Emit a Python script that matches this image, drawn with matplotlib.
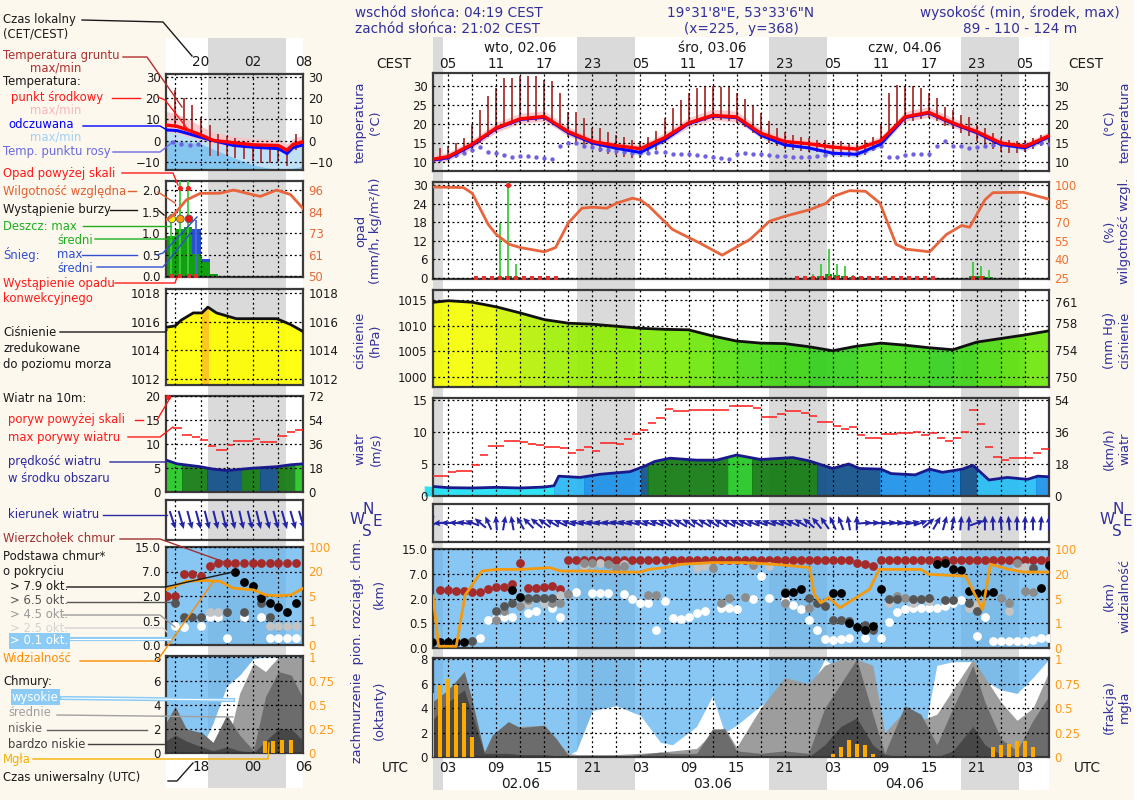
import numpy as np
import matplotlib
matplotlib.use("Agg")
import matplotlib.pyplot as plt
from matplotlib.colors import LinearSegmentedColormap, Normalize
from matplotlib.lines import Line2D
from matplotlib.patches import Rectangle
from matplotlib.transforms import blended_transform_factory

W, H = 1147, 800
CREAM = "#fdf8ee"
INK = "#1a1a1a"
LBL = "#30309a"
SKY = "#56aff0"

# ---------------- main meteogram, hours counted from 02.06 00 UTC ----------------
XLIM = (1.1, 78.0)
SUNRISE, SUNSET = 2 + 19 / 60, 19 + 2 / 60      # 04:19 / 21:02 CEST given in UTC

hours3 = np.arange(0, 79, 3)
temp_mid = [10.2, 11.3, 14.6, 18.9, 21.3, 21.9, 17.9, 15.3, 14.2, 13.4, 16.3, 20.2, 22.2, 21.8,
            17.5, 15.3, 14.7, 13.8, 13.3, 15.5, 21.8, 23.0, 20.2, 17.9, 14.9, 14.0, 16.8]
temp_max = [11.3, 12.4, 15.9, 20.3, 22.8, 23.4, 19.2, 16.4, 15.2, 14.4, 17.6, 21.6, 23.8, 23.3,
            18.8, 16.4, 15.7, 14.8, 14.3, 16.7, 23.2, 24.5, 21.5, 19.0, 15.9, 15.0, 17.9]
temp_min = [9.3, 10.3, 13.5, 17.7, 20.1, 20.6, 16.8, 14.3, 13.2, 12.4, 15.2, 19.0, 20.9, 20.5,
            16.4, 14.3, 13.8, 12.8, 12.3, 14.5, 20.6, 21.7, 19.1, 16.9, 14.0, 13.1, 15.8]
feel_mid = [10.0, 11.0, 14.3, 18.7, 21.1, 21.7, 17.6, 14.9, 13.5, 12.4, 15.7, 20.0, 22.0, 21.6,
            17.0, 14.4, 13.6, 12.2, 11.9, 14.6, 21.6, 22.8, 20.0, 17.6, 14.5, 13.6, 16.5]
feel_max = [10.8, 11.8, 15.1, 19.5, 21.9, 22.5, 18.4, 15.7, 14.3, 13.2, 16.5, 20.8, 22.8, 22.4,
            17.8, 15.2, 14.4, 13.0, 12.7, 15.4, 22.4, 23.6, 20.8, 18.4, 15.3, 14.4, 17.3]
feel_min = [9.2, 10.2, 13.5, 17.9, 20.3, 20.9, 16.8, 14.1, 12.7, 11.6, 14.9, 19.2, 21.2, 20.8,
            16.2, 13.6, 12.8, 11.4, 11.1, 13.8, 20.8, 22.0, 19.2, 16.8, 13.7, 12.8, 15.7]
hum_hours = [0, 4.9, 6, 8, 9, 10.6, 12, 15, 16.4, 18, 19.7, 21, 22.8, 24, 26, 27, 28.1, 31,
             34.3, 37.2, 40.7, 43.1, 45, 48.1, 50.2, 51, 53.1, 55.1, 56.9, 58.9, 60.2, 63.1,
             65.2, 67.1, 68.1, 70, 71, 74.8, 78]
humidity = [98.6, 98.0, 93.4, 68.2, 60.2, 52.3, 49.6, 46.2, 49.6, 69.5, 81.4, 82.2, 81.4, 85.4,
            89.4, 88.0, 82.7, 64.2, 53.6, 43.5, 56.3, 70.8, 74.8, 80.1, 85.4, 90.7, 95.5, 95.0,
            85.4, 52.3, 48.3, 46.2, 60.2, 67.4, 66.0, 88.1, 93.9, 94.2, 88.6]
pressure = [1014.4, 1014.9, 1014.6, 1013.7, 1012.5, 1011.2, 1010.5, 1010.3, 1009.9, 1009.5,
            1009.3, 1009.2, 1008.0, 1007.0, 1006.6, 1006.5, 1005.9, 1005.1, 1006.0, 1006.6,
            1006.2, 1005.7, 1005.3, 1006.8, 1007.5, 1008.2, 1009.0]

# hourly series, h = 1 .. 78
hours1 = np.arange(1, 79)
ground_max = [12.5, 13.5, 14.0, 14.8, 16.2, 19.7, 23.7, 27.2, 29.5, 32.1, 32.1, 32.5,
              32.5, 32.5, 31.6, 31.2, 28.1, 23.2, 23.2, 21.5, 18.8, 18.8, 17.9, 17.1,
              16.5, 15.7, 15.5, 16.6, 18.0, 21.5, 24.1, 26.3, 28.1, 29.4, 30.0, 30.0,
              29.8, 29.8, 28.1, 26.5, 24.7, 22.8, 20.6, 18.8, 17.9, 17.1, 16.6, 16.2,
              15.7, 15.8, 15.5, 15.3, 15.0, 15.0, 15.7, 16.6, 19.7, 28.1, 30.3, 29.9,
              29.9, 29.4, 28.1, 26.7, 24.5, 23.7, 22.3, 21.9, 19.7, 18.8, 17.5, 16.2,
              15.7, 15.3, 15.7, 16.2, 17.1, 17.5]
ground_min = [9.3, 9.8, 10.3, 11.0, 12.0, 13.2, 15.0, 16.5, 17.8, 19.0, 19.8, 20.3,
              20.5, 20.6, 20.7, 20.5, 19.0, 16.5, 15.0, 14.0, 13.2, 12.5, 12.0, 11.6,
              11.3, 11.0, 11.0, 11.8, 13.0, 14.8, 16.8, 18.3, 19.5, 20.3, 20.8, 21.0,
              21.0, 20.8, 20.2, 19.0, 17.5, 16.0, 14.8, 14.0, 13.4, 13.0, 12.8, 12.6,
              12.4, 12.0, 11.5, 11.3, 11.2, 11.3, 11.8, 12.8, 14.5, 17.0, 19.0, 20.2,
              20.8, 21.2, 21.5, 20.8, 19.5, 18.5, 17.5, 16.8, 15.5, 14.0, 13.2, 12.5,
              12.2, 12.2, 12.5, 13.2, 14.0, 14.6]
dew_point = [10.3, 10.8, 11.3, 11.8, 12.3, 13.0, 13.9, 12.5, 12.2, 11.8, 11.2, 11.4,
             11.4, 11.2, 11.0, 10.8, 14.2, 14.9, 14.8, 14.2, 13.8, 13.4, 13.0, 12.8,
             12.5, 12.3, 12.2, 12.3, 12.4, 12.4, 12.1, 12.0, 12.0, 11.8, 11.4, 11.3,
             11.0, 10.8, 12.0, 12.2, 12.0, 12.0, 11.8, 11.5, 11.4, 11.2, 11.1, 11.2,
             11.4, 11.8, 12.2, 12.3, 12.3, 12.4, 12.8, 13.5, 14.0, 11.3, 11.3, 11.8,
             12.1, 12.0, 12.0, 14.0, 15.4, 14.2, 14.0, 13.6, 13.8, 14.0, 14.3, 14.7,
             14.3, 14.1, 14.3, 14.6, 14.9, 14.7]
gust = [3.1, 3.1, 3.8, 3.9, 3.9, 4.8, 6.4, 7.8, 7.8, 8.6, 8.6, 8.5,
        8.1, 7.9, 7.6, 7.6, 7.5, 6.7, 7.2, 7.6, 7.0, 8.2, 8.2, 8.1,
        8.9, 9.7, 10.3, 11.45, 12.2, 13.6, 13.2, 13.2, 13.4, 13.4, 13.5, 13.5,
        13.4, 14.0, 14.1, 14.1, 13.7, 12.3, 12.3, 12.8, 13.2, 13.2, 13.0, 12.5,
        11.6, 11.6, 10.9, 10.4, 10.7, 9.6, 9.0, 9.0, 9.7, 9.7, 9.9, 9.9,
        10.0, 9.6, 9.8, 9.0, 8.6, 9.0, 10.0, 13.5, 11.25, 7.6, 6.15, 5.6,
        6.0, 6.0, 6.0, 6.7, 7.3, 7.3]
wind_dir = [260, 185, 180, 175, 170, 160, 140, 115, 95, 80, 100, 120,
            135, 140, 145, 150, 155, 160, 165, 165, 168, 170, 170, 168,
            165, 165, 160, 160, 158, 155, 150, 150, 148, 148, 150, 150,
            150, 152, 155, 155, 158, 160, 160, 160, 158, 155, 150, 140,
            130, 125, 115, 110, 100, 90, 5, 5, 5, 8, 8, 10,
            12, 20, 40, 60, 75, 80, 85, 88, 20, 90, 92, 95,
            95, 90, 88, 90, 85, 90]

precip_hours = [9.5, 10.5, 11.5, 48.5, 49.5, 50.5, 51.5, 52.5, 53.5, 54.5, 68.5, 69.5, 70.5]
precip_max = [17.8, 33.0, 4.5, 1.2, 4.5, 9.3, 4.5, 3.8, 1.0, 0.8, 5.2, 4.0, 2.7]
precip_mean = [0.4, 0.6, 0.2, 0.5, 0.8, 1.2, 1.0, 0.8, 0.4, 0.2, 0.8, 0.6, 0.3]
conv_hours = [6.5, 7.5, 8.5, 9.5, 10.5, 11.5, 12.5, 13.5, 14.5, 15.5, 16.5,
              46.5, 47.5, 48.5, 49.5, 50.5, 51.5, 52.5, 53.5, 54.5, 55.5, 56.5, 57.5,
              58.5, 59.5, 60.5, 61.5, 62.5, 63.5, 68.5, 69.5]

wind_hours = [0, 3, 6, 9, 12, 15, 16.2, 16.8, 19.5, 22, 25.7, 27.6, 28.8, 30.7, 34, 36.5, 39, 42,
              46, 48, 51, 53, 54.3, 57, 58.3, 61.3, 63.1, 64.7, 67.2, 68.5, 70.5, 72.8, 75.3, 76.6, 78]
wind_speed = [1.6, 1.3, 1.25, 1.35, 1.25, 1.4, 1.6, 3.1, 2.9, 3.4, 3.8, 4.7, 5.4, 5.9, 5.6, 5.6, 6.4, 5.7,
              6.0, 5.5, 4.3, 5.0, 4.3, 4.2, 3.5, 3.3, 4.2, 3.7, 4.2, 4.8, 2.5, 2.9, 2.6, 3.1, 3.0]
wind_band_edges = [0, 16.2, 20.0, 27.1, 27.9, 37.9, 40.9, 49.0, 56.9, 66.9, 69.0, 76.4, 78.5]
wind_band_cols = ['#1ee0f2', '#28b6f2', '#1a90ea', '#0f4e87', '#117a11', '#22c622',
                  '#117a11', '#0f4e87', '#1a90ea', '#0f4e87', '#25bdf5', '#1a90ea']

cb_top_h = list(range(2, 79))
cb_top_km = [3.7, 3.7, 3.5, 3.5, 3.4, 3.4, 4.0, 4.3, 4.3, 5.0, 10.4,
             4.2, 4.2, 4.3, 4.5, 3.9,
             11.4, 11.4, 11.4, 11.4, 11.4, 11.4, 11.4, 11.4, 11.4, 11.4, 11.4, 11.4,
             11.4, 11.4, 11.4, 11.4, 11.4, 11.4, 11.4, 11.4, 11.4, 11.4, 11.4, 11.6,
             11.6, 11.6, 11.4, 11.4, 11.6, 11.6, 11.4, 11.4, 11.4, 11.4, 11.4, 11.4,
             10.6, 10.0, 9.6,
             11.4, 11.4, 11.4, 11.4, 11.4, 11.4, 11.4, 11.4, 11.4, 11.4, 11.4,
             11.4, 11.4, 11.4, 11.4, 11.4, 11.4, 11.4, 11.4, 11.4, 11.4, 11.4]
cb_black_h = [1, 2, 3, 4, 5, 11, 12, 45, 46, 47, 51, 52, 53, 54, 55, 56, 57,
              64, 65, 66, 67, 68, 69, 70, 71, 77, 78]
cb_black_km = [0.13, 0.13, 0.13, 0.13, 0.13, 3.7, 2.4, 3.2, 3.3, 3.9, 3.1, 3.1, 0.5, 0.43,
               0.36, 0.45, 3.9, 10.3, 10.6, 8.4, 8.2, 3.5, 3.1, 3.2, 3.3, 4.2, 9.7]
cb_dgray_h = [6, 9, 10, 11, 13, 14, 15, 16, 45, 48, 49, 50, 51, 52, 53, 55, 56,
              58, 59, 61, 62, 63, 65, 66, 68, 69, 76]
cb_dgray_km = [0.15, 1.23, 1.54, 1.75, 2.05, 2.05, 2.05, 2.05, 3.3, 2.1, 1.75, 1.55, 0.7,
               0.7, 0.65, 0.46, 0.36, 1.95, 2.0, 2.0, 2.0, 2.05, 1.9, 1.9, 1.75, 1.23, 8.9]
cb_gray_h = [9, 10, 12, 13, 15, 16, 17, 18, 20, 21, 23, 24, 25, 28, 29, 36, 37, 38, 40, 41,
             45, 48, 59, 60, 72, 73, 74, 75, 76]
cb_gray_km = [0.7, 1.23, 1.55, 1.9, 2.05, 1.75, 1.75, 2.9, 10.6, 10.6, 10.0, 8.9, 9.5, 2.8,
              2.8, 8.9, 1.75, 2.05, 2.3, 9.7, 1.75, 1.4, 2.5, 2.05, 2.1, 1.75, 10.6, 3.5, 3.4]
cb_lgray_h = [6, 13, 15, 17, 20, 21, 22, 25, 34, 35, 41, 43, 58, 61, 63, 68, 69, 73, 74, 75]
cb_lgray_km = [0.14, 1.75, 1.75, 2.8, 9.5, 10.0, 10.6, 10.0, 8.9, 9.5, 9.5, 9.5, 1.75, 1.75,
               1.85, 1.45, 1.6, 1.25, 9.5, 9.2]
cb_white_h = [7, 8, 9, 10, 11, 13, 14, 16, 17, 19, 21, 22, 23, 25, 26, 27, 28, 29, 30, 31,
              32, 33, 34, 35, 37, 38, 39, 41, 42, 43, 45, 46, 47, 48, 49, 50, 51, 52, 53, 55,
              57, 58, 59, 60, 61, 62, 63, 64, 65, 66, 67, 69, 70, 71, 72, 73, 74, 75, 76, 77, 78]
cb_white_km = [0.21, 0.71, 0.8, 0.9, 0.9, 1.1, 1.25, 1.45, 0.9, 3.3, 3.2, 3.2, 3.2, 2.9, 2.0,
               1.75, 1.75, 0.36, 1.85, 0.8, 0.75, 0.9, 1.1, 1.25, 1.45, 1.45, 1.35, 2.0, 6.5,
               2.1, 1.9, 1.6, 1.35, 0.7, 0.36, 0.18, 0.16, 0.18, 0.21, 0.21, 0.21, 0.6, 1.17,
               1.35, 1.4, 1.45, 1.45, 1.45, 1.55, 1.75, 1.9, 0.25, 0.9, 0.14, 0.14, 0.14, 0.14,
               0.14, 0.16, 0.2, 0.2]
vis_hours = [1.1, 1.8, 4.0, 5.1, 7.2, 9, 12, 15.7, 17, 21, 24, 27, 28, 30, 32, 36, 40, 44,
             48.1, 48.7, 49.5, 50.5, 51.9, 55.6, 56.8, 62, 63, 67.6, 69.7, 70.7, 73, 74.8, 78]
vis_km = [6.6, 0.07, 0.07, 7.0, 28.8, 34, 34, 39.6, 28.8, 28.8, 25.5, 25.5, 34, 39.6, 50.5,
          56, 56, 50, 40, 7.6, 4.3, 5.6, 3.5, 10.6, 34, 34, 19.6, 18.6, 3.2, 50.7, 34, 25.5, 25.5]

cloud_hours = [1, 3, 5, 6, 7.5, 8.5, 10.5, 12, 15, 16.5, 18, 19, 21, 24, 27, 29.5, 31, 34, 36,
               37.5, 39, 42, 45, 48, 50, 52, 54, 56, 57.5, 60, 62, 64, 66, 68.5, 70, 72, 74, 76, 78]
cloud_high = [0, 0, 0, 0, 0, 0.3, 0.3, 0.3, 0.4, 0.4, 0.2, 0.5, 3.8, 4.2, 3.4, 1.2, 1.0, 2.5, 5.0,
              2.0, 2.6, 4.2, 5.2, 5.4, 8.0, 7.0, 8.0, 6.5, 1.0, 0.5, 0.5, 7.5, 7.8, 7.8, 6.2,
              5.5, 5.2, 6.5, 8.0]
cloud_mid = [3.5, 4.0, 4.5, 3.0, 0.5, 1.0, 2.2, 2.5, 2.6, 1.3, 0.3, 0.2, 0.2, 0.2, 0.3, 0.4,
             0.5, 0.7, 2.0, 2.4, 0.8, 4.0, 6.5, 6.0, 7.5, 8.0, 8.0, 7.5, 2.0, 3.8, 3.0, 3.5,
             5.5, 8.0, 6.5, 4.5, 3.0, 4.0, 7.0]
cloud_low = [4.5, 5.5, 7.0, 4.6, 0.4, 1.8, 2.9, 2.4, 2.6, 1.5, 0.1, 0, 0, 0, 0.2, 0.4, 0.3,
             0.3, 2.3, 2.3, 0.5, 0.3, 0.5, 0.3, 4.0, 6.0, 8.0, 3.5, 0.3, 4.2, 3.5, 1.0, 4.0,
             7.5, 4.5, 1.5, 0.5, 3.0, 5.0]
cloud_vlow = [3.0, 4.5, 5.5, 3.5, 0.3, 0.3, 0.3, 0.2, 0.2, 0.1, 0, 0, 0, 0, 0, 0, 0, 0, 0,
              0, 0, 0, 0, 0, 1.0, 2.5, 3.2, 1.0, 0.2, 0, 0, 0, 0.5, 2.5, 1.0, 0.2, 0, 0, 0]
fog_hours = [1, 2, 3, 4, 5, 6, 51, 52, 53, 54, 55, 56, 71, 72, 73, 74, 75, 76]
fog_frac = [0.65, 0.74, 0.8, 0.74, 0.55, 0.2, 0.03, 0.1, 0.17, 0.13, 0.12, 0.03,
            0.1, 0.12, 0.13, 0.16, 0.16, 0.1]

# ---------------- small legend meteogram, hours from 01.06 00 UTC ----------------
LXLIM = (13.93, 29.86)
LNIGHT = (18.8, 27.9)
lt_hours = [13.9, 15.2, 16.3, 17.9, 19.4, 21.8, 24.1, 27.0, 28.0, 28.7, 29.9]
lt_mid = [7.3, 6.7, 5.2, 2.8, 0.1, -1.0, -2.0, -2.3, -4.5, -1.8, -0.5]
lt_max = [13.7, 12.5, 10.5, 7.0, 4.0, 2.0, 1.0, 0.5, -1.5, 1.0, 2.5]
lt_min = [4.0, 3.5, 2.0, 0.5, -1.5, -2.5, -3.5, -4.0, -6.0, -3.5, -2.0]
lt_feel = [5.0, 4.7, 3.5, 1.6, 0.0, -2.3, -3.1, -3.8, -6.1, -3.3, -2.0]
lt_feel_max = [5.5, 5.2, 4.0, 2.2, 0.5, -1.8, -2.6, -3.3, -5.5, -2.8, -1.5]
lt_dew_area = [0.0, -0.3, -0.5, -1.5, -4.0, -8.0, -11.5, -13.8, -13.8, -13.0, -12.0]
ld_hours = [14.7, 15.7, 16.7, 17.7]
ld_dew = [-0.6, -1.5, -2.0, -1.5]
lg_hours = list(range(15, 30))
lg_max = [23.8, 20.0, 16.5, 11.1, 7.3, 3.1, 2.3, 1.1, 0.0, -1.5, -2.3, -2.3, -3.1, -4.6, 3.1]
lg_min = [6.5, 5.5, 3.5, 1.0, -7.4, -7.4, -7.4, -8.0, -8.5, -9.5, -10.5, -10.5, -10.0, -12.0, -4.5]

lh_hours = [13.9, 14.8, 16.3, 17.9, 20.2, 21.8, 23.3, 24.9, 26.8, 28.4, 29.9]
lh_hum = [79.9, 82.7, 90.7, 94.2, 94.3, 96.0, 94.3, 92.6, 96.0, 93.6, 86.0]
lp_bar_hours = [14.5, 15.5, 16.5, 17.5, 18.5, 19.5]
lp_rain = [0.94, 1.1, 1.15, 0.52, 0.33, 0.06]
lp_snow = [0, 0, 0, 0.58, 0.07, 0]
lp_max_hours = [14.5, 15.5, 16.5]
lp_max = [1.45, 2.3, 2.3]
lp_snow_max_hours = [17.4]
lp_snow_max = [1.3]
lstorm_hours = [14.6, 15.6, 16.6]
lstorm_cols = ['#ffee00', '#ff9900', '#ee1111']
lconv_hours = [14.6, 15.6, 16.6, 17.4]

lpr_hours = [13.9, 15.0, 15.7, 17.1, 18.1, 18.8, 19.8, 22.1, 26.8, 28.4, 29.9]
lpr = [1015.6, 1015.7, 1016.1, 1016.6, 1016.6, 1017.0, 1016.6, 1016.2, 1016.2, 1015.8, 1015.3]

lw_hours = [13.9, 15.2, 17.9, 19.4, 21.0, 24.1, 26.8, 28.4, 29.9]
lw_speed = [6.7, 5.9, 5.3, 4.8, 4.5, 5.0, 5.3, 5.7, 5.9]
lw_band_edges = [13.5, 15.75, 18.7, 22.7, 24.9, 26.8, 28.9, 30.5]
lw_band_cols = ['#22c622', '#117a11', '#0f4e87', '#117a11', '#0f4e87', '#117a11', '#22c622']
lgust_t0 = [14.8, 15.75, 16.9, 17.9, 18.85, 19.8, 21.0, 21.75, 24.1, 24.9, 26.8, 28.0, 28.9]
lgust_t1 = [15.75, 16.9, 17.9, 18.85, 19.8, 21.0, 21.75, 24.1, 24.9, 26.8, 28.0, 28.9, 29.9]
lgust = [13.5, 11.9, 11.6, 10.9, 9.7, 8.8, 9.8, 10.6, 11.0, 10.5, 11.7, 12.6, 12.9]
ldir_hours = [14.7, 15.7, 16.7, 17.7, 18.7, 19.7, 20.7, 21.7, 22.7, 23.7, 24.7, 25.7, 26.7, 27.7, 28.7, 29.7]
ldir = [-72, -74, -75, -75, -76, -76, -77, -77, -77, -76, -76, -75, -75, -74, -74, -74]

lc_hours = list(range(14, 30))
lc_top = [2.1, 2.1, 6.4, 6.4, 6.0, 8.9, 9.7, 9.7, 9.7, 9.7, 9.7, 9.7, 9.7, 9.7, 9.7, 9.7]
lc_black_h = [22, 23, 24, 25, 26, 27, 28, 29]
lc_black_km = [6.9, 4.8, 4.1, 1.85, 1.6, 1.3, 1.0, 1.6]
lc_dgray_h = [15, 16, 17, 18, 21, 23, 25, 26]
lc_dgray_km = [1.6, 0.7, 0.7, 0.7, 1.0, 1.0, 1.6, 0.7]
lc_lgray_h = [19, 20, 26, 27, 28, 29]
lc_lgray_km = [1.0, 1.0, 0.38, 0.38, 0.38, 0.38]
lc_white_h = [15, 16, 18, 19, 20, 21, 23, 25, 26, 27, 28, 29]
lc_white_km = [0.38, 0.36, 0.38, 0.7, 0.7, 0.14, 0.7, 0.7, 0.14, 0.14, 0.14, 0.14]
lv_hours = [13.9, 16.3, 18.2, 20.2, 21.7, 24.1, 25.6, 27.0, 28.4, 29.9]
lv_km = [8.75, 14, 14.5, 14, 9.8, 8.75, 5.5, 5.2, 5.5, 9.8]

lcl_hours = [13.9, 15.0, 16.3, 18.1, 19.4, 21.0, 22.5, 24.1, 25.5, 27.0, 28.5, 29.9]
lcl_high = [0, 0, 0, 0.5, 2.5, 5.6, 6.5, 7.9, 8, 8, 8, 8]
lcl_mid = [1.5, 2.0, 1.5, 0.5, 0.5, 0.5, 5.0, 7.5, 6.8, 8.0, 8.0, 8.0]
lcl_low = [2.5, 3.9, 2.0, 1.7, 0.9, 3.2, 1.5, 0.2, 4.7, 6.8, 6.5, 4.5]
lcl_vlow = [1.0, 1.5, 1.0, 0.5, 0.2, 0.5, 0.2, 0.0, 1.0, 2.0, 2.0, 1.0]
lfog_hours = [25.4, 26.4, 27.4, 28.5]
lfog = [0.13, 0.13, 0.14, 0.14]

KM_TICKS = [0, 0.5, 2, 7, 15]
VIS_TICKS = [0, 1, 5, 20, 100]
LEVELS = [0, 1, 2, 3, 4]


def km_fwd(v):
    return np.interp(v, KM_TICKS, LEVELS)


def km_inv(v):
    return np.interp(v, LEVELS, KM_TICKS)


def vis_fwd(v):
    return np.interp(v, VIS_TICKS, LEVELS)


def vis_inv(v):
    return np.interp(v, LEVELS, VIS_TICKS)


plt.rcParams['font.family'] = ['DejaVu Sans']
fig = plt.figure(figsize=(W / 100, H / 100), dpi=100)
fig.patch.set_facecolor(CREAM)
fig.add_artist(Rectangle((1134 / W, 0), 13 / W, 1, transform=fig.transFigure, color='white', lw=0))


def rect(x0, y0, x1, y1):
    return [x0 / W, 1 - y1 / H, (x1 - x0) / W, (y1 - y0) / H]


def ftext(x, y, s, **kw):
    kw.setdefault('va', 'center')
    kw.setdefault('fontsize', 8.4)
    fig.text(x / W, 1 - y / H, s, **kw)


def fline(pts, color, lw=1.0):
    fig.add_artist(Line2D([p[0] / W for p in pts], [1 - p[1] / H for p in pts],
                          transform=fig.transFigure, color=color, lw=lw))


def hlabel(ax, h, y, s, **kw):
    tr = blended_transform_factory(ax.transData, fig.transFigure)
    fig.text(h, 1 - y / H, s, transform=tr, ha='center', va='center', color=INK, **kw)


def background(r, xlim, nights):
    bg = fig.add_axes(r)
    bg.set_xlim(xlim)
    bg.set_ylim(0, 1)
    bg.axis('off')
    bg.add_patch(Rectangle((0, 0), 1, 1, transform=bg.transAxes, color='white', lw=0))
    for a, b in nights:
        bg.axvspan(a, b, color='#dadada', lw=0)


def panel(r, xlim, grid, ylim=None, yticks=None, ylabels=None, fs=8.5):
    ax = fig.add_axes(r)
    ax.set_facecolor('none')
    ax.set_xlim(xlim)
    if ylim is not None:
        ax.set_ylim(ylim)
        ax.set_yticks(yticks)
        if ylabels is not None:
            ax.set_yticklabels(ylabels)
    ax.set_xticks(grid)
    ax.set_axisbelow(False)
    ax.grid(True, color='black', linestyle=(0, (1.6, 2.2)), linewidth=0.9)
    ax.tick_params(length=0, labelbottom=False, labelsize=fs, pad=4, colors=INK)
    for s in ax.spines.values():
        s.set_color('#3a3a3a')
        s.set_linewidth(1.6)
    return ax


def right_axis(ax, ylim, ticks, labels, color, fs=8.5):
    tw = ax.twinx()
    tw.set_ylim(ylim)
    tw.set_yticks(ticks)
    tw.set_yticklabels(labels)
    tw.tick_params(length=0, labelsize=fs, colors=color, pad=4)
    for s in tw.spines.values():
        s.set_visible(False)
    return tw


def sky(ax):
    ax.add_patch(Rectangle((0, 0), 1, 1, transform=ax.transAxes, color=SKY, alpha=0.7, lw=0, zorder=0.5))


def banded_fill(ax, x, y, base, edges, cols):
    for a, b, c in zip(edges[:-1], edges[1:], cols):
        poly = ax.fill_between(x, base, y, color=c, lw=0, alpha=0.92, zorder=1)
        poly.set_clip_path(Rectangle((a, -50), b - a, 200, transform=ax.transData))


def cloud_dots(ax, s):
    sets = [(cb_top_h, cb_top_km, '#a52a2a'), (cb_white_h, cb_white_km, '#ffffff'),
            (cb_lgray_h, cb_lgray_km, '#c4c4c4'), (cb_gray_h, cb_gray_km, '#8c8c8c'),
            (cb_dgray_h, cb_dgray_km, '#555555'), (cb_black_h, cb_black_km, '#000000')]
    for hh, kk, c in sets:
        ax.scatter(hh, kk, s=s, color=c, lw=0, zorder=3, clip_on=True)


# ================= main column =================
nights = [(XLIM[0] - 2, SUNRISE)] + [(SUNSET + 24 * d, SUNRISE + 24 * (d + 1)) for d in range(3)]
background(rect(433, 37, 1049, 790), XLIM, nights)
grid3 = list(range(3, 78, 3))
X0, X1 = 433, 1049

# temperature
ax = panel(rect(X0, 73, X1, 171), XLIM, grid3, (7.5, 33.4), [10, 15, 20, 25, 30])
ax.tick_params(labelright=True)
ax.fill_between(hours3, feel_min, feel_max, color='#c4e0f6', lw=0, zorder=1)
ax.fill_between(hours3, temp_min, temp_max, color='#f8c4c8', lw=0, alpha=0.85, zorder=1.1)
ax.vlines(hours1, ground_min, ground_max, color='#a83434', lw=1.3, zorder=2)
ax.scatter(hours1, dew_point, s=10, color='#6f62e0', lw=0, zorder=3)
ax.plot(hours3, feel_mid, color='#0a0aff', lw=2.2, zorder=4)
ax.plot(hours3, temp_mid, color='#ff0000', lw=2.4, zorder=5)
for h in range(3, 76, 6):
    hlabel(ax, h, 64, f'{(h + 2) % 24:02d}', fontsize=9.8)
for h, s in zip([12, 36, 60], ['wto, 02.06', 'śro, 03.06', 'czw, 04.06']):
    hlabel(ax, h, 48, s, fontsize=9.8)

# precipitation / humidity
ax = panel(rect(X0, 182, X1, 279), XLIM, grid3, (-0.3, 31), [0, 6, 12, 18, 24, 30])
ax.bar(precip_hours, precip_mean, width=0.9, color='#129a12', lw=0, zorder=2)
ax.vlines(precip_hours, 0, precip_max, color='#3ccc3c', lw=1.3, zorder=3)
over = [h for h, v in zip(precip_hours, precip_max) if v > 30]
ax.scatter(over, [30] * len(over), s=14, color='#ee2222', lw=0, zorder=5, clip_on=False)
ax.scatter(conv_hours, [0] * len(conv_hours), marker='s', s=5, color='#e03030', lw=0, zorder=4)
tw = right_axis(ax, (25 - 0.75, 25 + 2.5 * 31), [25, 40, 55, 70, 85, 100],
                ['25', '40', '55', '70', '85', '100'], '#f07030')
tw.plot(hum_hours, humidity, color='#e8643c', lw=2.0, zorder=3)

# pressure
ax = panel(rect(X0, 290, X1, 387), XLIM, grid3, (998, 1017), [1000, 1005, 1010, 1015])
pcmap = LinearSegmentedColormap.from_list('p', ['#1ec81e', '#4cdc0a', '#88ee00', '#c4f200', '#ffff00'])
pnorm = Normalize(1004.5, 1015.2)
for i in range(len(hours3) - 1):
    c = pcmap(pnorm((pressure[i] + pressure[i + 1]) / 2))
    ax.fill_between(hours3[i:i + 2], 998, pressure[i:i + 2], color=c, lw=0.4, edgecolor=c,
                    alpha=0.9, zorder=1)
ax.plot(hours3, pressure, color='#111111', lw=2.0, zorder=4)
right_axis(ax, (998 * 0.750062, 1017 * 0.750062), [750, 754, 758, 761],
           ['750', '754', '758', '761'], INK)

# wind speed
ax = panel(rect(X0, 398, X1, 496), XLIM, grid3, (0, 15.3), [0, 5, 10, 15])
banded_fill(ax, wind_hours, wind_speed, 0, wind_band_edges, wind_band_cols)
ax.plot(wind_hours, wind_speed, color='#1a1a8c', lw=2.0, zorder=4)
ax.hlines(gust, hours1, hours1 + 1, color='#ff2a2a', lw=1.2, zorder=4)
right_axis(ax, (0, 15.3 * 3.6), [0, 18, 36, 54], ['0', '18', '36', '54'], INK)

# wind direction
ax = panel(rect(X0, 504, X1, 542), XLIM, grid3, (-1, 1), [])
ang = np.radians(wind_dir)
ax.quiver(hours1, np.zeros(len(hours1)), np.cos(ang), np.sin(ang), angles='uv', pivot='middle',
          scale_units='inches', scale=6.8, units='dots', width=2.0, headwidth=3.2,
          headlength=3.6, headaxislength=3.2, color='#2424a6', zorder=4)

# cloud base / visibility
ax = panel(rect(X0, 549, X1, 648), XLIM, grid3)
ax.set_yscale('function', functions=(km_fwd, km_inv))
ax.set_ylim(0, 15)
ax.set_yticks(KM_TICKS)
ax.set_yticklabels(['0.0', '0.5', '2.0', '7.0', '15.0'])
ax.yaxis.set_minor_locator(matplotlib.ticker.NullLocator())
sky(ax)
cloud_dots(ax, 40)
tw = ax.twinx()
tw.set_yscale('function', functions=(vis_fwd, vis_inv))
tw.set_ylim(0, 100)
tw.set_yticks(VIS_TICKS)
tw.set_yticklabels(['0', '1', '5', '20', '100'])
tw.yaxis.set_minor_locator(matplotlib.ticker.NullLocator())
tw.tick_params(length=0, labelsize=8.5, colors='#ff9a1a', pad=4)
for s in tw.spines.values():
    s.set_visible(False)
tw.plot(vis_hours, vis_km, color='#f59a0c', lw=2.0, zorder=4)

# cloudiness / fog
ax = panel(rect(X0, 658, X1, 757), XLIM, grid3, (0, 8.1), [0, 2, 4, 6, 8])
sky(ax)
ax.fill_between(cloud_hours, 0, cloud_high, color='white', lw=0, zorder=1)
ax.fill_between(cloud_hours, 0, cloud_mid, color='#9d9d9d', lw=0, zorder=1.1)
ax.fill_between(cloud_hours, 0, cloud_low, color='#6c6c6c', lw=0, zorder=1.2)
ax.fill_between(cloud_hours, 0, cloud_vlow, color='#474747', lw=0, zorder=1.3)
tw = right_axis(ax, (0, 8.1 / 8), [0, 0.25, 0.5, 0.75, 1], ['0', '0.25', '0.5', '0.75', '1'], '#ff9a1a')
tw.bar(fog_hours, fog_frac, width=0.45, color='#ffaa00', lw=0, zorder=3)
for h in range(3, 76, 6):
    hlabel(ax, h, 768, f'{h % 24:02d}', fontsize=9.8)
for h, s in zip([12, 36, 60], ['02.06', '03.06', '04.06']):
    hlabel(ax, h, 784, s, fontsize=9.8)

# axis titles of the main column
ytitles = [(122, 'temperatura\n(°C)', '(°C)\ntemperatura'),
           (231, 'opad\n(mm/h, kg/m²/h)', '(%)\nwilgotność wzgl.'),
           (340, 'ciśnienie\n(hPa)', '(mm Hg)\nciśnienie'),
           (449, 'wiatr\n(m/s)', '(km/h)\nwiatr'),
           (596, None, '(km)\nwidzialność'),
           (707, None, '(frakcja)\nmgła')]
for y, left, right in ytitles:
    if left:
        ftext(368, y, left, rotation=90, ha='center', color=LBL, fontsize=9.3, multialignment='center',
              linespacing=1.25)
    ftext(1117, y, right, rotation=90, ha='center', color=LBL, fontsize=9.3, multialignment='center',
          linespacing=1.25)
ftext(358, 650, 'zachmurzenie  pion. rozciągł. chm.', rotation=90, ha='center', color=LBL, fontsize=9.3)
ftext(379, 594, '(km)', rotation=90, ha='center', color=LBL, fontsize=9.3)
ftext(379, 710, '(oktanty)', rotation=90, ha='center', color=LBL, fontsize=9.3)
for x0 in (357, 1107):
    ftext(x0, 520, 'W', ha='center', color=LBL, fontsize=11)
    ftext(x0 + 11, 510, 'N', ha='center', color=LBL, fontsize=11)
    ftext(x0 + 20, 521, 'E', ha='center', color=LBL, fontsize=11)
    ftext(x0 + 10, 531, 'S', ha='center', color=LBL, fontsize=11)

ftext(394, 64, 'CEST', ha='center', color=INK, fontsize=9.8)
ftext(1086, 64, 'CEST', ha='center', color=INK, fontsize=9.8)
ftext(395, 768, 'UTC', ha='center', color=INK, fontsize=9.8)
ftext(1087, 768, 'UTC', ha='center', color=INK, fontsize=9.8)

ftext(355, 13, 'wschód słońca: 04:19 CEST', color=LBL, fontsize=9.8)
ftext(355, 29, 'zachód słońca: 21:02 CEST', color=LBL, fontsize=9.8)
ftext(741, 13, '19°31\'8"E, 53°33\'6"N', ha='center', color=LBL, fontsize=9.8)
ftext(741, 29, '(x=225,  y=368)', ha='center', color=LBL, fontsize=9.8)
ftext(1020, 13, 'wysokość (min, środek, max)', ha='center', color=LBL, fontsize=9.8)
ftext(1020, 29, '89 - 110 - 124 m', ha='center', color=LBL, fontsize=9.8)

# ================= legend column =================
background(rect(166, 38, 303, 788), LXLIM, [LNIGHT])
lgrid = [15, 18, 21, 24, 27]
L0, L1 = 166, 303

ax = panel(rect(L0, 74, L1, 170), LXLIM, lgrid, (-13.8, 31.2), [-10, 0, 10, 20, 30])
ax.tick_params(labelright=True)
ax.fill_between(lt_hours, -13.8, lt_feel_max, color='#bfe0f6', lw=0, zorder=1)
ax.fill_between(lt_hours, -13.8, lt_dew_area, color='#84c6f0', lw=0, zorder=1.05)
ax.fill_between(lt_hours, lt_min, lt_max, color='#f8c4c8', lw=0, alpha=0.85, zorder=1.1)
ax.vlines(lg_hours, lg_min, lg_max, color='#a83434', lw=1.3, zorder=2)
ax.scatter(ld_hours, ld_dew, s=10, color='#6f62e0', lw=0, zorder=3)
ax.plot(lt_hours, lt_feel, color='#0a0aff', lw=2.2, zorder=4)
ax.plot(lt_hours, lt_mid, color='#ff0000', lw=2.4, zorder=5)
for h, s in zip([18, 24, 30], ['20', '02', '08']):
    hlabel(ax, h, 62, s, fontsize=9.8)

ax = panel(rect(L0, 181, L1, 277), LXLIM, lgrid, (-0.02, 2.21), [0, 0.5, 1, 1.5, 2],
           ['0.0', '0.5', '1.0', '1.5', '2.0'])
ax.bar(lp_bar_hours, lp_rain, width=1.0, color='#12a012', lw=0, zorder=1)
ax.bar(lp_bar_hours, lp_snow, width=1.0, bottom=lp_rain, color='#2a4fd0', lw=0, zorder=1)
ax.vlines(lp_max_hours, 0, lp_max, color='#3ccc3c', lw=1.3, zorder=3)
ax.vlines(lp_snow_max_hours, 0, lp_snow_max, color='#4a6ae0', lw=1.3, zorder=3)
ax.scatter([15.5, 16.5], [2.05, 2.05], s=14, color='#ee2222', lw=0, zorder=5)
ax.scatter(lstorm_hours, [1.33] * 3, s=30, color=lstorm_cols, edgecolors='#555555', lw=0.6, zorder=5)
ax.scatter(lconv_hours, [0] * 4, marker='s', s=5, color='#e03030', lw=0, zorder=4)
tw = right_axis(ax, (50 - 0.46, 50 + 23 * 2.21), [50, 61.5, 73, 84.5, 96],
                ['50', '61', '73', '84', '96'], '#e06a3a')
tw.plot(lh_hours, lh_hum, color='#e8643c', lw=2.0, zorder=3)

ax = panel(rect(L0, 289, L1, 385), LXLIM, lgrid, (1011.6, 1018.26), [1012, 1014, 1016, 1018])
ax.tick_params(labelright=True)
ax.fill_between(lpr_hours, 1011.6, lpr, color='#ffff00', lw=0, alpha=0.92, zorder=1)
strip = ax.fill_between(lpr_hours, 1011.6, lpr, color='#ffc81e', lw=0, zorder=1.1)
strip.set_clip_path(Rectangle((18.1, 1000), 0.75, 30, transform=ax.transData))
ax.plot(lpr_hours, lpr, color='#111111', lw=2.0, zorder=4)

ax = panel(rect(L0, 396, L1, 492), LXLIM, lgrid, (0, 20.1), [0, 5, 10, 15, 20])
banded_fill(ax, lw_hours, lw_speed, 0, lw_band_edges, lw_band_cols)
ax.plot(lw_hours, lw_speed, color='#1a1a8c', lw=2.0, zorder=4)
ax.hlines(lgust, lgust_t0, lgust_t1, color='#ff2a2a', lw=1.2, zorder=4)
ax.scatter([14.2], [19.8], s=14, color='#ee2222', lw=0, zorder=5, clip_on=False)
right_axis(ax, (0, 20.1 * 3.6), [0, 18, 36, 54, 72], ['0', '18', '36', '54', '72'], INK)

ax = panel(rect(L0, 500, L1, 540), LXLIM, lgrid, (-1, 1), [])
ang = np.radians(ldir)
ax.quiver(ldir_hours, np.zeros(len(ldir_hours)), np.cos(ang), np.sin(ang), angles='uv',
          pivot='middle', scale_units='inches', scale=5.3, units='dots', width=2.0,
          headwidth=3.2, headlength=3.6, headaxislength=3.2, color='#2424a6', zorder=4)

ax = panel(rect(L0, 547, L1, 645), LXLIM, lgrid)
ax.set_yscale('function', functions=(km_fwd, km_inv))
ax.set_ylim(0, 15)
ax.set_yticks(KM_TICKS)
ax.set_yticklabels(['0.0', '0.5', '2.0', '7.0', '15.0'])
ax.yaxis.set_minor_locator(matplotlib.ticker.NullLocator())
sky(ax)
for hh, kk, c in [(lc_hours, lc_top, '#a52a2a'), (lc_white_h, lc_white_km, '#ffffff'),
                  (lc_lgray_h, lc_lgray_km, '#c4c4c4'), (lc_dgray_h, lc_dgray_km, '#555555'),
                  (lc_black_h, lc_black_km, '#000000')]:
    ax.scatter(hh, kk, s=40, color=c, lw=0, zorder=3)
tw = ax.twinx()
tw.set_yscale('function', functions=(vis_fwd, vis_inv))
tw.set_ylim(0, 100)
tw.set_yticks(VIS_TICKS)
tw.set_yticklabels(['0', '1', '5', '20', '100'])
tw.yaxis.set_minor_locator(matplotlib.ticker.NullLocator())
tw.tick_params(length=0, labelsize=8.5, colors='#ff9a1a', pad=4)
for s in tw.spines.values():
    s.set_visible(False)
tw.plot(lv_hours, lv_km, color='#f59a0c', lw=2.0, zorder=4)

ax = panel(rect(L0, 656, L1, 753), LXLIM, lgrid, (0, 8.1), [0, 2, 4, 6, 8])
sky(ax)
ax.fill_between(lcl_hours, 0, lcl_high, color='white', lw=0, zorder=1)
ax.fill_between(lcl_hours, 0, lcl_mid, color='#9d9d9d', lw=0, zorder=1.1)
ax.fill_between(lcl_hours, 0, lcl_low, color='#6c6c6c', lw=0, zorder=1.2)
ax.fill_between(lcl_hours, 0, lcl_vlow, color='#474747', lw=0, zorder=1.3)
tw = right_axis(ax, (0, 8.1 / 8), [0, 0.25, 0.5, 0.75, 1], ['0', '0.25', '0.5', '0.75', '1'], '#ff9a1a')
tw.bar(lfog_hours, lfog, width=0.45, color='#ffaa00', lw=0, zorder=3)
for h, s in zip([18, 24, 30], ['18', '00', '06']):
    hlabel(ax, h, 767, s, fontsize=9.8)

# legend texts and leader lines
RED = '#ff1a1a'
BROWN = '#b03030'
GREEN = '#1fae1f'
BLUE = '#3050d0'
NAVY = '#2a2aa0'
ORANGE = '#ff8c00'
texts = [
    (3, 20, 'Czas lokalny', INK), (3, 34, '(CET/CEST)', INK),
    (3, 55, 'Temperatura gruntu', BROWN), (30, 68, 'max/min', BROWN),
    (3, 81, 'Temperatura:', INK), (11, 97, 'punkt środkowy', RED),
    (30, 110, 'max/min', '#f5b8b8'), (8, 125, 'odczuwana', '#0000ff'),
    (30, 137, 'max/min', '#a0d0f5'), (3, 152, 'Temp. punktu rosy', '#6a6ae0'),
    (3, 173, 'Opad powyżej skali', RED), (3, 191, 'Wilgotność względna', '#e06030'),
    (3, 210, 'Wystąpienie burzy', INK), (3, 226, 'Deszcz: max', GREEN),
    (57, 240, 'średni', GREEN), (3, 254, 'Śnieg:', BLUE), (57, 254, 'max', BLUE),
    (57, 268, 'średni', BLUE), (3, 283, 'Wystąpienie opadu', RED),
    (3, 298, 'konwekcyjnego', RED),
    (3, 332, 'Ciśnienie', INK), (3, 348, 'zredukowane', INK), (3, 364, 'do poziomu morza', INK),
    (3, 399, 'Wiatr na 10m:', INK), (8, 419, 'poryw powyżej skali', RED),
    (8, 437, 'max porywy wiatru', RED), (8, 462, 'prędkość wiatru', NAVY),
    (8, 478, 'w środku obszaru', NAVY), (8, 514, 'kierunek wiatru', NAVY),
    (3, 538, 'Wierzchołek chmur', '#a03030'), (3, 556, 'Podstawa chmur*', INK),
    (3, 571, 'o pokryciu', INK), (10, 587, '> 7.9 okt.', INK),
    (10, 601, '> 6.5 okt.', '#555555'), (10, 615, '> 4.5 okt.', '#9a9a9a'),
    (10, 628, '> 2.5 okt.', '#d4d4d4'),
    (3, 659, 'Widzialność', ORANGE), (3, 681, 'Chmury:', INK),
    (8, 713, 'średnie', '#a0a0a0'), (8, 729, 'niskie', '#606060'),
    (8, 744, 'bardzo niskie', '#404040'), (3, 759, 'Mgła', '#f5b000'),
    (3, 778, 'Czas uniwersalny (UTC)', INK),
]
for x, y, s, c in texts:
    ftext(x, y, s, color=c)
box = dict(boxstyle='square,pad=0.12', fc='#8ccbf5', ec='none')
ftext(10, 641, '> 0.1 okt.', color='white', bbox=box)
ftext(12, 697, 'wysokie', color='white', bbox=box)

leaders = [
    ([(82, 20), (163, 22), (192, 56)], INK),
    ([(123, 57), (147, 57), (182, 107)], BROWN),
    ([(112, 98), (140, 98)], RED), ([(158, 97), (165, 100), (190, 132)], RED),
    ([(83, 126), (160, 126), (167, 130)], '#0000ff'),
    ([(113, 152), (160, 152), (173, 142)], '#6a6ae0'),
    ([(122, 173), (173, 173), (178, 185)], RED),
    ([(128, 191), (136, 191)], '#e06030'), ([(158, 192), (175, 203)], '#e06030'),
    ([(110, 210), (137, 210)], INK), ([(158, 210), (164, 215)], INK),
    ([(83, 226), (170, 226)], GREEN),
    ([(95, 239), (170, 239), (177, 235)], GREEN),
    ([(82, 255), (137, 255)], BLUE), ([(157, 255), (163, 253), (197, 217)], BLUE),
    ([(97, 267), (163, 267), (193, 230)], BLUE),
    ([(115, 283), (175, 283), (177, 277)], RED),
    ([(60, 332), (165, 332), (167, 330)], INK),
    ([(135, 420), (143, 420)], RED), ([(157, 420), (170, 398)], RED),
    ([(128, 437), (160, 437), (173, 427)], RED),
    ([(110, 462), (165, 462), (167, 460)], NAVY),
    ([(103, 515), (167, 515)], NAVY),
    ([(120, 539), (160, 539), (227, 563)], '#a03030'),
    ([(67, 587), (165, 587), (233, 572)], INK),
    ([(67, 602), (173, 602)], '#555555'),
    ([(63, 615), (160, 615), (175, 627)], '#9a9a9a'),
    ([(65, 628), (163, 628), (167, 632)], '#d4d4d4'),
    ([(80, 661), (157, 661), (213, 582)], ORANGE),
    ([(57, 715), (233, 717)], '#a0a0a0'),
    ([(47, 730), (147, 730)], '#606060'),
    ([(88, 744), (165, 744)], '#404040'),
    ([(33, 759), (268, 759), (269, 743)], '#f5b000'),
    ([(168, 781), (177, 781), (193, 763)], INK),
]
for pts, c in leaders:
    fline(pts, c)
fline([(65, 639), (170, 639)], '#8ccbf5', lw=3)
fline([(65, 639), (170, 639)], 'white', lw=0.8)
fline([(62, 698), (233, 700)], '#8ccbf5', lw=3)
fline([(62, 698), (233, 700)], 'white', lw=0.8)

fig.savefig('out.png', dpi=100, facecolor=fig.get_facecolor())
